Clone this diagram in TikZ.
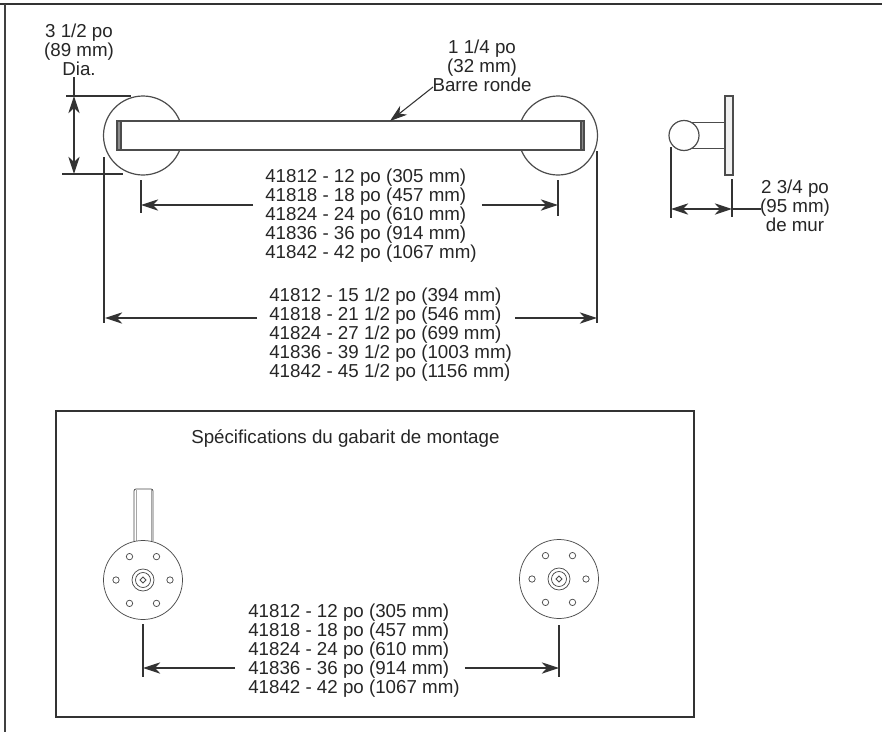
\documentclass[tikz,border=0pt]{standalone}
\usepackage{fontspec}
\setmainfont{Liberation Sans}
\usetikzlibrary{arrows.meta}
\tikzset{
  lbl/.style={inner sep=0pt,font=\fontsize{14.05}{14.25}\selectfont,text=black!85},
  part/.style={draw=black!70,line width=.9pt},
  thin part/.style={draw=black!70,line width=.55pt},
  dim/.style={draw=black!80,line width=.8pt},
  dimarrow/.style={dim,{Stealth[length=13pt,width=8.5pt,inset=4pt]}-{Stealth[length=13pt,width=8.5pt,inset=4pt]}},
  onearrow/.style={dim,-{Stealth[length=13pt,width=8.5pt,inset=4pt]}},
}
\begin{document}
\begin{tikzpicture}[x=0.75pt,y=-0.75pt]
\useasboundingbox (0,0) rectangle (882,732);
\fill[white] (0,0) rectangle (882,732);
\draw[black!80,line width=1.6pt] (0,4) -- (882,4);
\draw[black!75,line width=1.2pt] (5,4) -- (5,732);
\draw[black!80,line width=1.2pt] (56,411) rectangle (694,717);
% top view
\draw[part] (143,135.5) circle[radius=39.5];
\draw[part] (558,135.5) circle[radius=39.5];
\draw[part,fill=white] (117,121) rectangle (584,150);
\fill[black!45] (117,121) rectangle (121,150);
\fill[black!45] (581,121) rectangle (584,150);
\draw[part] (117,121) rectangle (584,150);
\draw[part] (121,121) -- (121,150);
\draw[part] (581,121) -- (581,150);
% side view
\draw[part] (690,122.5) -- (725,122.5);
\draw[part] (690,148.5) -- (725,148.5);
\draw[part,fill=white] (684,135.5) circle[radius=15];
\draw[part,fill=black!6] (725,96) rectangle (733,175);
% coordinates
\coordinate (dTop) at (74,96);
\coordinate (dBot) at (74,174);
\coordinate (a1) at (141,205);
\coordinate (a2) at (558,205);
\coordinate (b1) at (105,318);
\coordinate (b2) at (597,318);
\coordinate (c1) at (143,668);
\coordinate (c2) at (559,668);
\coordinate (s1) at (671,209);
\coordinate (s2) at (732,209);
% extension lines
\draw[dim] (74,77) -- (74,96);
\draw[dim] (66,96) -- (131,96);
\draw[dim] (62,174) -- (123,174);
\draw[dim] (104,157) -- (104,323);
\draw[dim] (141,180) -- (141,213);
\draw[dim] (558,180) -- (558,216);
\draw[dim] (597,151) -- (597,323);
\draw[dim] (671,147) -- (671,218);
\draw[dim] (732,179) -- (732,217);
\draw[dim] (143,624) -- (143,677);
\draw[dim] (559,625) -- (559,677);
% dimension arrows
\draw[dimarrow] (dTop) -- (dBot);
\draw[dimarrow] (s1) -- (s2);
\draw[dim] (s2) -- (761,209);
\node[lbl,align=center] (tdia) at (79,50) {3 1/2 po\\(89 mm)\\Dia.};
\node[lbl,align=center] (tbar) at (482,66) {1 1/4 po\\(32 mm)\\Barre ronde};
\coordinate (barHit) at (390,121);
\coordinate (tb) at (433,87);
\draw[onearrow] (tb) -- (barHit);
\node[lbl,align=center] (tside) at (795,206) {2 3/4 po\\(95 mm)\\de mur};
\node[lbl,align=left,anchor=west] (tA) at (265,216) {41812 - 12 po (305 mm)\\41818 - 18 po (457 mm)\\41824 - 24 po (610 mm)\\41836 - 36 po (914 mm)\\41842 - 42 po (1067 mm)};
\node[lbl,align=left,anchor=west] (tB) at (269,335) {41812 - 15 1/2 po (394 mm)\\41818 - 21 1/2 po (546 mm)\\41824 - 27 1/2 po (699 mm)\\41836 - 39 1/2 po (1003 mm)\\41842 - 45 1/2 po (1156 mm)};
\node[lbl,align=left,anchor=west] (tC) at (248,651) {41812 - 12 po (305 mm)\\41818 - 18 po (457 mm)\\41824 - 24 po (610 mm)\\41836 - 36 po (914 mm)\\41842 - 42 po (1067 mm)};
\node[lbl,anchor=west] (ttitle) at (191,439) {Spécifications du gabarit de montage};
\draw[onearrow] (tA.west |- a1) ++(-12,0) coordinate (a3) (a3) -- (a1);
\draw[onearrow] (tA.east |- a2) ++(5,0) coordinate (a4) (a4) -- (a2);
\draw[onearrow] (tB.west |- b1) ++(-12,0) coordinate (b3) (b3) -- (b1);
\draw[onearrow] (tB.east |- b2) ++(3,0) coordinate (b4) (b4) -- (b2);
\draw[onearrow] (tC.west |- c1) ++(-13,0) coordinate (c3) (c3) -- (c1);
\draw[onearrow] (tC.east |- c2) ++(5,0) coordinate (c4) (c4) -- (c2);
% template
\draw[thin part,rounded corners=1.5pt] (134,541) -- (134,489) -- (153,489) -- (153,541);
\draw[draw=black!35,line width=.6pt] (136,490) -- (136,541) (151,490) -- (151,541);
\foreach \cx/\cy in {143/580,559/579}{
  \draw[thin part,fill=white] (\cx,\cy) circle[radius=39.5];
  \foreach \a in {0,60,120,180,240,300}
    \draw[thin part] ([shift={(\a:27)}]\cx,\cy) circle[radius=3.2];
  \draw[thin part] (\cx,\cy) circle[radius=11];
  \draw[thin part] (\cx,\cy) circle[radius=7.5];
  \draw[thin part] (\cx-3,\cy) -- (\cx,\cy-3) -- (\cx+3,\cy) -- (\cx,\cy+3) -- cycle;
}
\end{tikzpicture}
\end{document}
